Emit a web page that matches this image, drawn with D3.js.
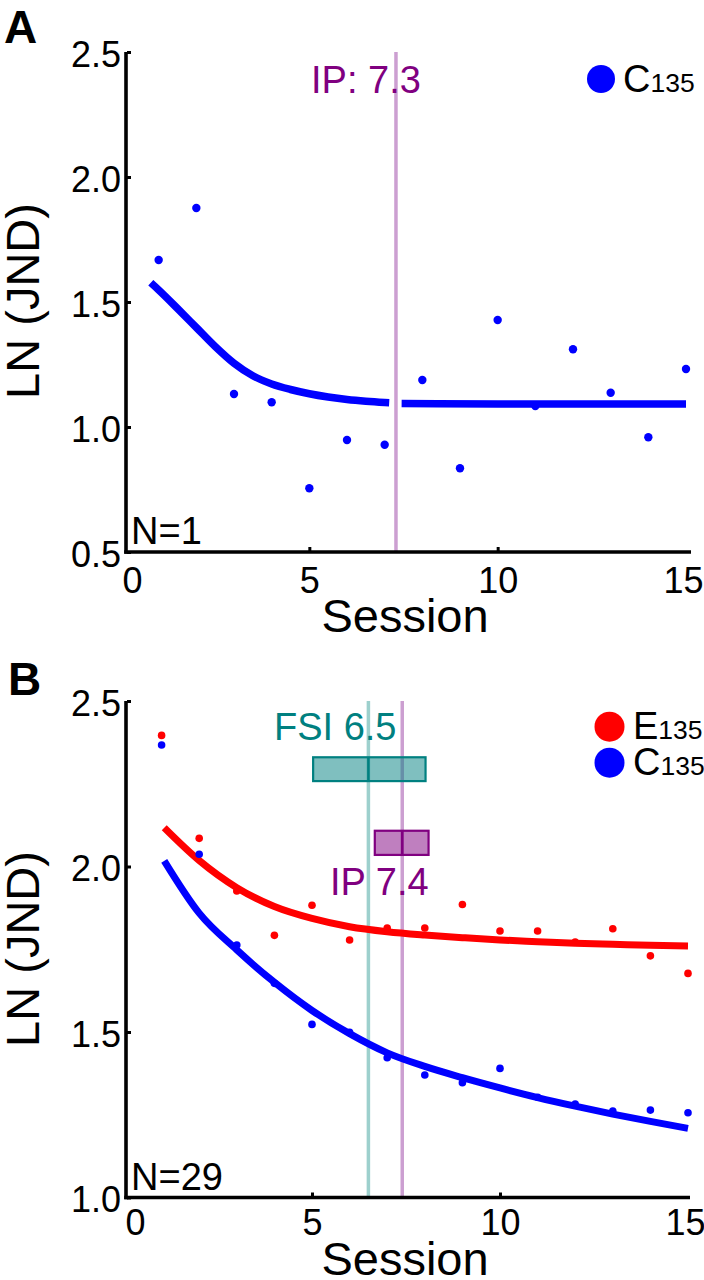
<!DOCTYPE html>
<html>
<head>
<meta charset="utf-8">
<script src="https://cdn.jsdelivr.net/npm/d3@7/dist/d3.min.js"></script>
<style>
  html, body { margin: 0; padding: 0; background: #fff; }
  svg { display: block; font-family: "Liberation Sans", Arial, sans-serif; }
</style>
</head>
<body>
<svg id="chart" width="704" height="1280"></svg>
<script>
// ---------------- data ----------------
const sessions = [1,2,3,4,5,6,7,8,9,10,11,12,13,14,15];
const xTickValues = [0, 5, 10, 15];
const yTicksA = [0.5, 1.0, 1.5, 2.0, 2.5];
const yTicksB = [1.0, 1.5, 2.0, 2.5];

// Panel A (N=1), C135
const c135A = [1.668,1.876,1.132,1.099,0.755,0.948,0.929,1.188,0.835,1.428,1.084,1.311,1.137,0.959,1.232];
// fitted curve A, before and after the IP line
const fitA_x_pre  = [0.79, 1.0, 1.5, 2.0, 2.5, 3.0, 3.5, 4.0, 4.5, 5.0, 5.5, 6.0, 6.5, 7.0, 7.12];
const fitA_y_pre  = [1.577,1.548,1.474,1.398,1.322,1.255,1.205,1.172,1.150,1.133,1.120,1.110,1.103,1.098,1.097];
const fitA_x_post = [7.45, 10, 15];
const fitA_y_post = [1.094, 1.092, 1.092];
const ipA = 7.3;

// Panel B (N=29), E135 and C135
const e135B = [2.396,2.085,1.926,1.792,1.883,1.778,1.814,1.814,1.885,1.805,1.805,1.772,1.812,1.730,1.677];
const c135B = [2.367,2.037,1.763,1.647,1.523,1.499,1.422,1.370,1.347,1.390,1.303,1.282,1.261,1.264,1.256];
const fitB_x  = [1.07,2,3,4,5,6,7,8,9,10,11,12,13,14,15];
const fitE_y  = [2.117,2.018,1.936,1.879,1.843,1.818,1.803,1.793,1.785,1.778,1.773,1.768,1.765,1.762,1.760];
const fitC_y  = [2.017,1.859,1.748,1.650,1.565,1.495,1.437,1.396,1.362,1.331,1.302,1.276,1.252,1.230,1.209];
const fsiB = 6.5, fsiCI = [5.03, 8.02], fsiBoxY = [2.258, 2.330];
const ipB  = 7.4, ipCI  = [6.67, 8.10], ipBoxY  = [2.035, 2.108];

// ---------------- drawing ----------------
const svg = d3.select("#chart");
const BLUE = "#0000ff", RED = "#ff0000";
const PURPLE = "#800080", TEAL = "#008080";
const PURPLE_LIGHT = "#cc9fd1", TEAL_LIGHT = "#9dd0cd";

function axes(g, x, y, yTicks, axisX, xAxisEnd, xPad) {
  const yTop = y(yTicks[yTicks.length - 1]);
  const yBot = y(yTicks[0]);
  const ya = g.append("g").attr("transform", `translate(${axisX},0)`)
    .call(d3.axisLeft(y).tickValues(yTicks).tickFormat(d3.format(".1f")).tickSize(-4).tickPadding(5));
  ya.select(".domain").remove();
  ya.selectAll(".tick line").attr("stroke", "#000").attr("stroke-width", 3).attr("x1", 1).attr("x2", 5);
  ya.selectAll(".tick text").attr("font-size", 36).attr("fill", "#000")
    .attr("font-family", "'Liberation Sans', Arial, sans-serif").attr("dy", "0.4em");
  const xa = g.append("g").attr("transform", `translate(0,${yBot})`)
    .call(d3.axisBottom(x).tickValues(xTickValues).tickFormat(d3.format("d")).tickSize(-4).tickPadding(xPad));
  xa.select(".domain").remove();
  xa.selectAll(".tick line").attr("stroke", "#000").attr("stroke-width", 3).attr("y1", -1).attr("y2", -5)
    .attr("display", d => (d === 0 || d === 15) ? "none" : null);
  xa.selectAll(".tick text").attr("font-size", 36).attr("fill", "#000")
    .attr("font-family", "'Liberation Sans', Arial, sans-serif")
    .attr("dx", d => d === 0 ? 11 : (d === 15 ? -3 : 0));
  g.append("line").attr("x1", axisX).attr("x2", axisX).attr("y1", yTop).attr("y2", yBot + 1.8)
    .attr("stroke", "#000").attr("stroke-width", 3.6);
  g.append("line").attr("x1", axisX - 1.8).attr("x2", xAxisEnd).attr("y1", yBot).attr("y2", yBot)
    .attr("stroke", "#000").attr("stroke-width", 3.6);
}

function labels(g, cy, sessionBaseline) {
  g.append("text").attr("x", 405).attr("y", sessionBaseline).attr("text-anchor", "middle")
    .attr("font-size", 47).text("Session");
  g.append("text").attr("transform", `translate(39,${cy}) rotate(-90)`).attr("text-anchor", "middle")
    .attr("font-size", 47).text("LN (JND)");
}

function legendItem(g, cx, cy, r, color, letter, tx, baseline) {
  g.append("circle").attr("cx", cx).attr("cy", cy).attr("r", r).attr("fill", color);
  const t = g.append("text").attr("x", tx).attr("y", baseline).attr("font-size", 38);
  t.append("tspan").text(letter);
  t.append("tspan").attr("font-size", 26.5).text("135");
}

// ===== Panel A =====
{
  const g = svg.append("g");
  const x = d3.scaleLinear([0, 15], [121, 686]);
  const y = d3.scaleLinear([0.5, 2.5], [552, 52]);

  g.append("text").attr("x", 4).attr("y", 43).attr("font-size", 46).attr("font-weight", "bold").text("A");

  g.append("line").attr("x1", x(ipA)).attr("x2", x(ipA)).attr("y1", y(2.5)).attr("y2", y(0.5))
    .attr("stroke", PURPLE_LIGHT).attr("stroke-width", 3.5);

  const line = d3.line().x(d => x(d[0])).y(d => y(d[1])).curve(d3.curveMonotoneX);
  g.append("path").attr("d", line(d3.zip(fitA_x_pre, fitA_y_pre)))
    .attr("fill", "none").attr("stroke", BLUE).attr("stroke-width", 7.5);
  g.append("path").attr("d", line(d3.zip(fitA_x_post, fitA_y_post)))
    .attr("fill", "none").attr("stroke", BLUE).attr("stroke-width", 7.5);

  g.selectAll("circle.pt").data(d3.zip(sessions, c135A)).join("circle").attr("class", "pt")
    .attr("cx", d => x(d[0])).attr("cy", d => y(d[1])).attr("r", 4.2).attr("fill", BLUE);

  axes(g, x, y, yTicksA, 126, 691, 15);
  labels(g, 301, 632);

  g.append("text").attr("x", 311).attr("y", 93).attr("font-size", 38).attr("fill", PURPLE).text("IP: 7.3");
  g.append("text").attr("x", 131).attr("y", 544).attr("font-size", 38).text("N=1");

  legendItem(g, 601, 79, 14, BLUE, "C", 623, 92);
}

// ===== Panel B =====
{
  const g = svg.append("g");
  const x = d3.scaleLinear([0, 15], [124, 688]);
  const y = d3.scaleLinear([1.0, 2.5], [1197.5, 701]);

  g.append("text").attr("x", 8).attr("y", 695).attr("font-size", 46).attr("font-weight", "bold").text("B");

  g.append("line").attr("x1", x(fsiB)).attr("x2", x(fsiB)).attr("y1", y(2.5)).attr("y2", y(1.0))
    .attr("stroke", TEAL_LIGHT).attr("stroke-width", 3.5);
  g.append("line").attr("x1", x(ipB)).attr("x2", x(ipB)).attr("y1", y(2.5)).attr("y2", y(1.0))
    .attr("stroke", PURPLE_LIGHT).attr("stroke-width", 3.5);

  function box(ci, yy, mid, color) {
    g.append("rect").attr("x", x(ci[0])).attr("width", x(ci[1]) - x(ci[0]))
      .attr("y", y(yy[1])).attr("height", y(yy[0]) - y(yy[1]))
      .attr("fill", color).attr("fill-opacity", 0.5).attr("stroke", color).attr("stroke-width", 2.2);
    g.append("line").attr("x1", x(mid)).attr("x2", x(mid)).attr("y1", y(yy[1])).attr("y2", y(yy[0]))
      .attr("stroke", color).attr("stroke-width", 2.5);
  }
  box(fsiCI, fsiBoxY, fsiB, TEAL);
  box(ipCI, ipBoxY, ipB, PURPLE);

  const line = d3.line().x(d => x(d[0])).y(d => y(d[1])).curve(d3.curveMonotoneX);
  g.append("path").attr("d", line(d3.zip(fitB_x, fitE_y)))
    .attr("fill", "none").attr("stroke", RED).attr("stroke-width", 7);
  g.append("path").attr("d", line(d3.zip(fitB_x, fitC_y)))
    .attr("fill", "none").attr("stroke", BLUE).attr("stroke-width", 7);

  g.selectAll("circle.e").data(d3.zip(sessions, e135B)).join("circle").attr("class", "e")
    .attr("cx", d => x(d[0])).attr("cy", d => y(d[1])).attr("r", 3.8).attr("fill", RED);
  g.selectAll("circle.c").data(d3.zip(sessions, c135B)).join("circle").attr("class", "c")
    .attr("cx", d => x(d[0])).attr("cy", d => y(d[1])).attr("r", 3.8).attr("fill", BLUE);

  axes(g, x, y, yTicksB, 126, 690, 12);
  labels(g, 949, 1275);

  g.append("text").attr("x", 274).attr("y", 740).attr("font-size", 38).attr("fill", TEAL).text("FSI 6.5");
  g.append("text").attr("x", 330).attr("y", 895).attr("font-size", 38).attr("fill", PURPLE).text("IP 7.4");
  g.append("text").attr("x", 131).attr("y", 1190).attr("font-size", 38).text("N=29");

  legendItem(g, 609.5, 726.7, 15, RED, "E", 633, 739);
  legendItem(g, 609.5, 762.7, 15, BLUE, "C", 633, 775);
}
</script>
</body>
</html>
